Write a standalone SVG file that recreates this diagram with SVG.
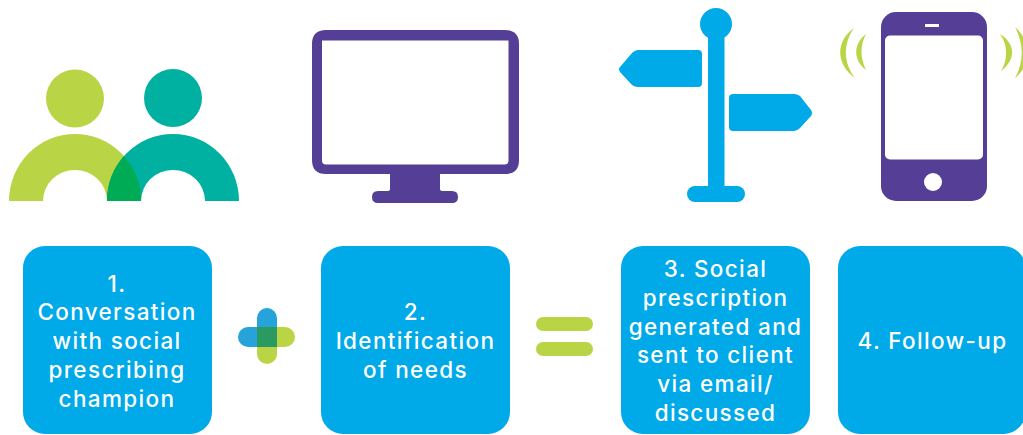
<svg xmlns="http://www.w3.org/2000/svg" width="1023" height="435" viewBox="0 0 1023 435">
<style>
.box{fill:#00a9e7}
.t{font-family:"Inter","Liberation Sans",sans-serif;font-weight:450;font-size:22.500px;fill:#fff;text-anchor:middle;letter-spacing:1.350px}
.lime{fill:#b9d546}
.teal{fill:#00b0a0}
.pur{fill:#543e96}
.blue{fill:#00a9e7}
.wave{fill:#b9d546}
</style>
<rect width="1023" height="435" fill="#fff"/>
<g id="icon-people">
<circle class="lime" cx="75" cy="98.5" r="29"/>
<circle class="teal" cx="173" cy="98" r="29"/>
<path class="lime" d="M9 201A66 67 0 0 1 141 201H107A32 31 0 0 0 43 201Z"/>
<path class="teal" d="M107 201A66 67 0 0 1 239 201H205A32 31 0 0 0 141 201Z"/>
<path fill="#00ab55" d="M107 201A66 67 0 0 1 124 156A66 67 0 0 1 141 201Z"/>
</g>
<g id="icon-monitor">
<path class="pur" fill-rule="evenodd" d="M326 30H505Q519 30 519 44V160Q519 174 505 174H440V189Q440 191 443 191H452Q458 191 458 197T452 203H378Q372 203 372 197T378 191H387Q390 191 390 189V174H326Q312 174 312 160V44Q312 30 326 30ZM322 40.500V160.500Q322 164.500 326 164.500H504.500Q508.500 164.500 508.500 160.500V40.500Z"/>
</g>
<g id="icon-signpost">
<circle class="blue" cx="716" cy="24" r="16"/>
<rect class="blue" x="708" y="30" width="16.500" height="160"/>
<rect class="blue" x="687" y="186" width="58" height="16" rx="8"/>
<path class="blue" d="M638 50H698Q702 50 702 54V83Q702 87 698 87H638Q635 87 632 85L620 72Q618 69 620 67L632 53Q635 50 638 50Z"/>
<path class="blue" d="M733 94H794Q797 94 800 96L811 110Q813 113 811 116L800 128Q797 131 794 131H733Q729 131 729 127V98Q729 94 733 94Z"/>
</g>
<g id="icon-phone">
<rect class="pur" x="881" y="12" width="106" height="189" rx="15"/>
<rect x="885" y="35.500" width="98" height="124" rx="5" fill="#fff"/>
<rect x="925" y="24" width="14" height="3" fill="#fff"/>
<circle cx="933" cy="182" r="9" fill="#fff"/>
<path class="wave" d="M854 28C835 42 836 64 855 78C843 62 843 44 854 28Z"/>
<path class="wave" d="M866 34C853 44 853 60 866 70C860 58 860 45 866 34Z"/>
<path class="wave" d="M1000 34C1016 44 1016 60 1001 71C1008 60 1008 45 1000 34Z"/>
<path class="wave" d="M1015 27C1032 42 1032 64 1015 78C1024 62 1024 44 1015 27Z"/>
</g>
<g id="node-1">
<rect class="box" x="23" y="246" width="189" height="188" rx="22"/>
<text class="t" x="117" y="291.500">1.</text>
<text class="t" x="117" y="320.300">Conversation</text>
<text class="t" x="117" y="349">with social</text>
<text class="t" x="117" y="378">prescribing</text>
<text class="t" x="117" y="406.700">champion</text>
</g>
<g id="operator-plus">
<path fill="#27a3dc" d="M267 308A10 10 0 0 1 277 318V327H257V318A10 10 0 0 1 267 308Z"/>
<path fill="#27a3dc" d="M248 327H257V347H248A10 10 0 0 1 248 327Z"/>
<path class="lime" d="M277 327H285A10 10 0 0 1 285 347H277Z"/>
<path class="lime" d="M257 347H277V354A10 10 0 0 1 257 354Z"/>
<rect x="257" y="327" width="20" height="20" fill="#2a9a62"/>
</g>
<g id="node-2">
<rect class="box" x="321" y="246" width="189" height="188" rx="22"/>
<text class="t" x="415.500" y="320.300">2.</text>
<text class="t" x="415.500" y="349">Identification</text>
<text class="t" x="415.500" y="378">of needs</text>
</g>
<g id="operator-equals">
<rect class="lime" x="536" y="317" width="57" height="14" rx="7"/>
<rect class="lime" x="536" y="342" width="57" height="14" rx="7"/>
</g>
<g id="node-3">
<rect class="box" x="621" y="246" width="189" height="188" rx="22"/>
<text class="t" x="715.500" y="277">3. Social</text>
<text class="t" x="715.500" y="305.700">prescription</text>
<text class="t" x="715.500" y="334.500">generated and</text>
<text class="t" x="715.500" y="363.200">sent to client</text>
<text class="t" x="715.500" y="392">via email/</text>
<text class="t" x="715.500" y="420.700">discussed</text>
</g>
<g id="node-4">
<rect class="box" x="838" y="246" width="187.500" height="188" rx="22"/>
<text class="t" x="932.500" y="349">4. Follow-up</text>
</g>
<g id="connectors"/>
</svg>
